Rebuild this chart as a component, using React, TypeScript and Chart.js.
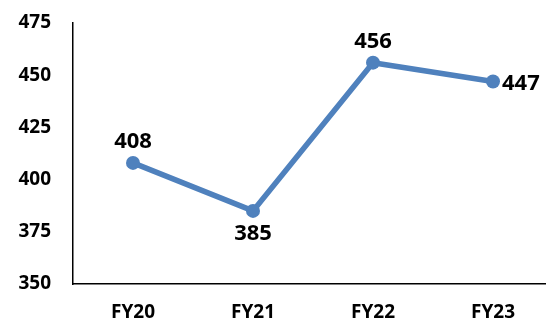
import React, { useEffect, useRef } from "react";
import { Chart, registerables } from "chart.js";

Chart.register(...registerables);

const categories = ["FY20", "FY21", "FY22", "FY23"];
const values = [408, 385, 456, 447];
const yTicks = [350, 375, 400, 425, 450, 475];
const labelPlacement = ["top", "bottom", "top", "right"];

const FONT = "'Open Sans', 'DejaVu Sans', sans-serif";
const BLUE = "#4F81BD";

const dataLabelPlugin = {
  id: "dataLabels",
  afterDatasetsDraw(chart: any) {
    const ctx = chart.ctx;
    const meta = chart.getDatasetMeta(0);
    ctx.save();
    ctx.font = `bold 22px ${FONT}`;
    ctx.fillStyle = "#000";
    meta.data.forEach((pt: any, i: number) => {
      const txt = String(values[i]);
      const pos = labelPlacement[i];
      ctx.textBaseline = "alphabetic";
      if (pos === "top") {
        ctx.textAlign = "center";
        ctx.fillText(txt, pt.x, pt.y - 15);
      } else if (pos === "bottom") {
        ctx.textAlign = "center";
        ctx.fillText(txt, pt.x, pt.y + 29);
      } else {
        ctx.textAlign = "left";
        ctx.fillText(txt, pt.x + 9, pt.y + 9);
      }
    });
    ctx.restore();
  },
};

export default function App() {
  const ref = useRef<HTMLCanvasElement>(null);
  useEffect(() => {
    document.body.style.margin = "0";
    document.body.style.overflow = "hidden";
    const chart = new Chart(ref.current!, {
      type: "line",
      data: {
        labels: categories,
        datasets: [
          {
            data: values,
            borderColor: BLUE,
            backgroundColor: BLUE,
            borderWidth: 5.5,
            pointRadius: 7,
            pointBackgroundColor: BLUE,
            pointBorderWidth: 0,
            tension: 0,
          },
        ],
      },
      options: {
        animation: false,
        responsive: false,
        devicePixelRatio: 1,
        layout: { autoPadding: false, padding: { top: 23, left: 0, right: 0, bottom: 0 } },
        plugins: { legend: { display: false }, tooltip: { enabled: false } },
        scales: {
          x: {
            offset: true,
            grid: { display: false, drawTicks: false },
            border: { display: true, color: "#000", width: 1.5 },
            ticks: {
              color: "#000",
              font: { family: FONT, size: 19, weight: "bold" },
              padding: 17,
            },
            afterFit: (s: any) => {
              s.height = 39;
              s.paddingLeft = 0;
              s.paddingRight = 0;
            },
          },
          y: {
            min: 350,
            max: 475,
            afterBuildTicks: (s: any) => {
              s.ticks = yTicks.map((v) => ({ value: v }));
            },
            grid: { display: false, drawTicks: false },
            border: { display: true, color: "#000", width: 1.5 },
            ticks: {
              color: "#000",
              font: { family: FONT, size: 19, weight: "bold" },
              padding: 22,
            },
            afterFit: (s: any) => {
              s.width = 73;
              s.paddingTop = 0;
              s.paddingBottom = 0;
            },
          },
        },
      },
      plugins: [dataLabelPlugin],
    });
    return () => chart.destroy();
  }, []);
  return (
    <div style={{ position: "absolute", left: 0, top: 0, width: 546, height: 323, overflow: "hidden", background: "#fff" }}>
      <canvas ref={ref} width={553} height={323} style={{ display: "block" }} />
    </div>
  );
}
